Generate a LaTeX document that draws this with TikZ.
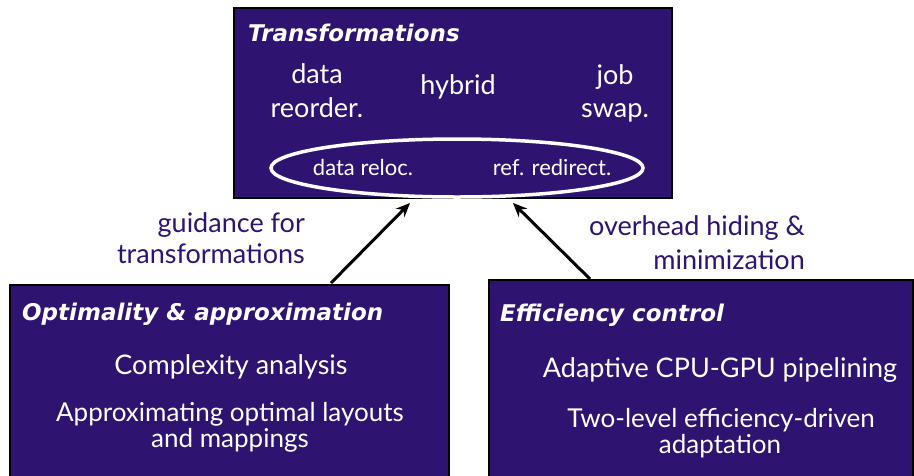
\documentclass[tikz,border=0pt]{standalone}
\usepackage{fontspec}
\setmainfont{Lato}
\newfontfamily\headfont{DejaVu Sans}
\usetikzlibrary{arrows.meta,shapes.geometric}
\definecolor{deepindigo}{RGB}{46,20,112}

\begin{document}
\begin{tikzpicture}[x=1pt,y=-1pt,
  panel/.style={draw=black, line width=1.5pt, fill=deepindigo, anchor=north west},
  head/.style={text=white, font=\headfont\fontsize{23}{26}\selectfont\bfseries\itshape, anchor=base west, inner sep=0pt},
  body/.style={text=white, font=\fontsize{27}{30}\selectfont, anchor=base, inner sep=0pt},
  pair/.style={body, font=\fontsize{26}{28}\selectfont},
  small/.style={text=white, font=\fontsize{22}{24}\selectfont, anchor=base, inner sep=0pt},
  note/.style={text=deepindigo, font=\fontsize{27}{30}\selectfont, anchor=base east, inner sep=0pt},
  link/.style={line width=3pt, -{Stealth[length=14pt,width=12pt]}}]
\clip (0,0) rectangle (914,475);

% three panels
\node[panel, minimum width=438pt, minimum height=190pt] (top) at (233,7) {};
\node[panel, minimum width=439pt, minimum height=200pt] (left) at (9,284) {};
\node[panel, minimum width=424pt, minimum height=205pt] (right) at (488,279) {};

% top panel: transformations
\node[head] (ttl) at (248,41) {Transformations};
\node[body] (reordA) at (317,83) {data};
\node[body] (reordB) at (317,117) {reorder.};
\node[body] (hyb) at (458,94) {hybrid};
\node[body] (swapA) at (615,84) {job};
\node[body] (swapB) at (615,117) {swap.};
\node[ellipse, draw=white, line width=3.5pt, minimum width=372pt, minimum height=58pt] (ring) at (457,168) {};
\node[small] (reloc) at (363,175) {data reloc.};
\node[small] (redir) at (552,175) {ref. redirect.};

% bottom-left panel
\node[head] (opt) at (22,320) {Optimality \& approximation};
\node[body] (cplx) at (231,374) {Complexity analysis};
\node[pair] (apprA) at (230,421) {Approximating optimal layouts};
\node[pair] (apprB) at (230,447) {and mappings};

% bottom-right panel
\node[head] (eff) at (500,321) {Efficiency control};
\node[body] (pipe) at (720,377) {Adaptive CPU-GPU pipelining};
\node[pair] (adaptA) at (721,427) {Two-level efficiency-driven};
\node[pair] (adaptB) at (720,453) {adaptation};

% annotations beside the arrows
\node[note] (guideA) at (305,232) {guidance for};
\node[note] (guideB) at (305,263) {transformations};
\node[note] (hideA) at (805,235) {overhead hiding \&};
\node[note] (hideB) at (805,269) {minimization};

% connectors
\coordinate (lfoot) at (331,283);
\coordinate (ltip) at (410,203);
\coordinate (rfoot) at (590,279);
\coordinate (rtip) at (513,203);
\draw[link] (lfoot) -- (ltip);
\draw[link] (rfoot) -- (rtip);
\end{tikzpicture}
\end{document}
